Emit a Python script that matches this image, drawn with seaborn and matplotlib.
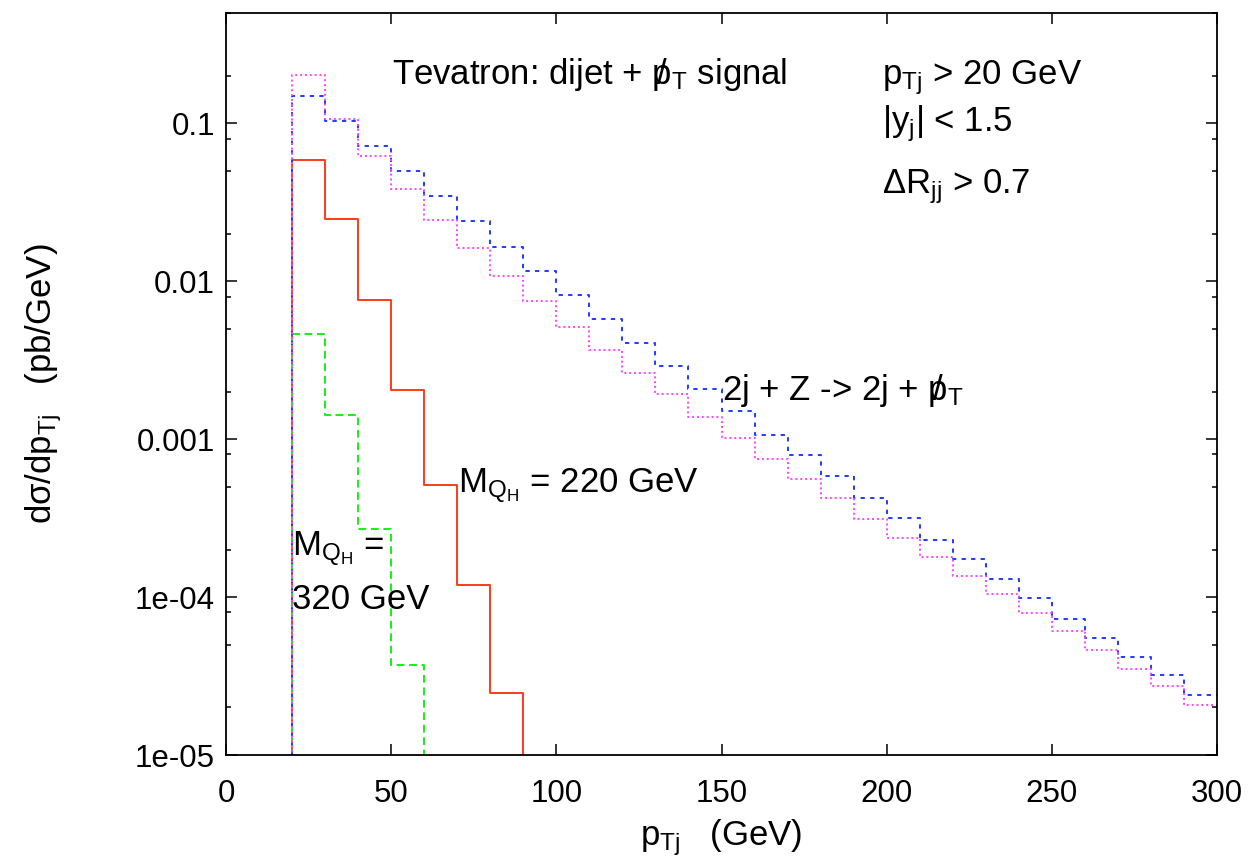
import numpy as np
import pandas as pd
import matplotlib
matplotlib.use("Agg")
import matplotlib.pyplot as plt
from matplotlib.ticker import LogLocator, NullFormatter, FixedLocator
import seaborn as sns

# ---------------- data ----------------
bin_lo = [20, 30, 40, 50, 60, 70, 80, 90, 100, 110, 120, 130, 140, 150,
          160, 170, 180, 190, 200, 210, 220, 230, 240, 250, 260, 270, 280, 290]
bin_width = 10

# 2j + Z -> 2j + missing pT (blue dashed)
bkg_blue = [0.150, 0.104, 0.0715, 0.0497, 0.0345, 0.0240, 0.0166, 0.01164,
            0.00813, 0.00575, 0.00407, 0.00292, 0.00207, 0.00150, 0.00107,
            0.000797, 0.000581, 0.000426, 0.000315, 0.000231, 0.000174,
            0.000130, 9.82e-5, 7.3e-5, 5.48e-5, 4.17e-5, 3.21e-5, 2.41e-5]
# 2j + Z (magenta dotted)
bkg_magenta = [0.203, 0.107, 0.0618, 0.0382, 0.0243, 0.0162, 0.0108, 0.00746,
               0.00516, 0.00368, 0.00263, 0.00192, 0.00139, 0.00102, 0.000747,
               0.000561, 0.000422, 0.000313, 0.000236, 0.000179, 0.000136,
               0.000104, 7.9e-5, 6.1e-5, 4.62e-5, 3.52e-5, 2.73e-5, 2.06e-5]
# M_QH = 220 GeV (red solid)
sig_220 = [0.0589, 0.0248, 0.00766, 0.00206, 0.000512, 0.000120, 2.47e-5]
# M_QH = 320 GeV (green dashed)
sig_320 = [0.00462, 0.00143, 0.000268, 3.72e-5]

x_ticks = [0, 50, 100, 150, 200, 250, 300]
y_ticks = [1e-5, 1e-4, 1e-3, 1e-2, 1e-1]
y_ticklabels = ["1e-05", "1e-04", "0.001", "0.01", "0.1"]

XMIN, XMAX = 0, 300
YMIN, YMAX = 1e-5, 0.5
FLOOR = 1e-7  # histogram outside its range is zero; drawn below the axis


def outline(values):
    """Step-histogram outline (edges down to the baseline)."""
    lo = np.array(bin_lo[:len(values)], dtype=float)
    hi = lo + bin_width
    xs, ys = [lo[0]], [FLOOR]
    for a, b, v in zip(lo, hi, values):
        xs += [a, b]
        ys += [v, v]
    if hi[-1] < XMAX:
        xs.append(hi[-1])
        ys.append(FLOOR)
    return pd.DataFrame({"x": xs, "y": ys})


# ---------------- style ----------------
sns.set_style("ticks")
plt.rcParams["font.family"] = ["Liberation Sans", "DejaVu Sans"]
plt.rcParams["mathtext.fontset"] = "custom"
plt.rcParams["mathtext.rm"] = "Liberation Sans"
plt.rcParams["mathtext.it"] = "Liberation Sans:italic"
plt.rcParams["mathtext.bf"] = "Liberation Sans:bold"
plt.rcParams["mathtext.default"] = "regular"
for k in ["text.color", "axes.labelcolor", "xtick.color", "ytick.color",
          "axes.edgecolor", "xtick.labelcolor", "ytick.labelcolor"]:
    plt.rcParams[k] = "black"

fig = plt.figure(figsize=(12.56, 8.68), dpi=100)
ax = fig.add_axes([226 / 1256, 1 - 755 / 868, (1217 - 226) / 1256, (755 - 13) / 868])

lw = 1.4
series = [
    (sig_220, "#ff3b1a", "-", None),
    (sig_320, "#14f014", "--", (4.0, 2.4)),
    (bkg_blue, "#1f3cff", "--", (2.2, 2.7)),
    (bkg_magenta, "#ff44ff", ":", (1.0, 1.5)),
]
for vals, col, ls, dashes in series:
    df = outline(vals)
    sns.lineplot(data=df, x="x", y="y", sort=False, estimator=None, ax=ax,
                 color=col, linewidth=lw, legend=False)
    ln = ax.lines[-1]
    if dashes is not None:
        ln.set_dashes(dashes)

ax.set_yscale("log")
ax.set_xlim(XMIN, XMAX)
ax.set_ylim(YMIN, YMAX)

ax.xaxis.set_major_locator(FixedLocator(x_ticks))
ax.set_xticklabels([str(t) for t in x_ticks])
ax.yaxis.set_major_locator(FixedLocator(y_ticks))
ax.set_yticklabels(y_ticklabels)
ax.yaxis.set_minor_locator(LogLocator(base=10, subs=[2, 5, 8]))
ax.yaxis.set_minor_formatter(NullFormatter())

ax.tick_params(axis="both", which="both", direction="in", top=True, right=True,
               colors="black", width=1.1)
ax.tick_params(axis="both", which="major", length=7.7, labelsize=22.5)
ax.tick_params(axis="both", which="minor", length=3.8)
ax.tick_params(axis="x", which="major", pad=17)
ax.tick_params(axis="y", which="major", pad=8)
for s in ax.spines.values():
    s.set_linewidth(1.3)
    s.set_color("black")

ax.set_xlabel(r"$p_{Tj}$   (GeV)", fontsize=25, labelpad=6)
ax.set_ylabel(r"$d\sigma/dp_{Tj}$   (pb/GeV)", fontsize=25)
ax.yaxis.set_label_coords(-0.163, 0.5)

fs = 25
ax.text(50.4, 0.178, r"Tevatron: dijet + $\,/\!\!\!p_T$ signal", fontsize=fs, va="baseline")
ax.text(198.5, 0.177, r"$p_{Tj}$ > 20 GeV", fontsize=fs, va="baseline")
ax.text(198.5, 0.089, r"$|y_j|$ < 1.5", fontsize=fs, va="baseline")
ax.text(198.5, 0.0359, r"$\Delta R_{jj}$ > 0.7", fontsize=fs, va="baseline")
ax.text(150, 0.00176, r"2j + Z -> 2j + $\,/\!\!\!p_T$", fontsize=fs, va="baseline")
ax.text(70.3, 0.00046, r"$M_{Q_H}$ = 220 GeV", fontsize=fs, va="baseline")
ax.text(20.1, 0.000184, r"$M_{Q_H}$ =", fontsize=fs, va="baseline")
ax.text(19.9, 8.36e-5, "320 GeV", fontsize=fs, va="baseline")

fig.savefig("out.png", dpi=100)
